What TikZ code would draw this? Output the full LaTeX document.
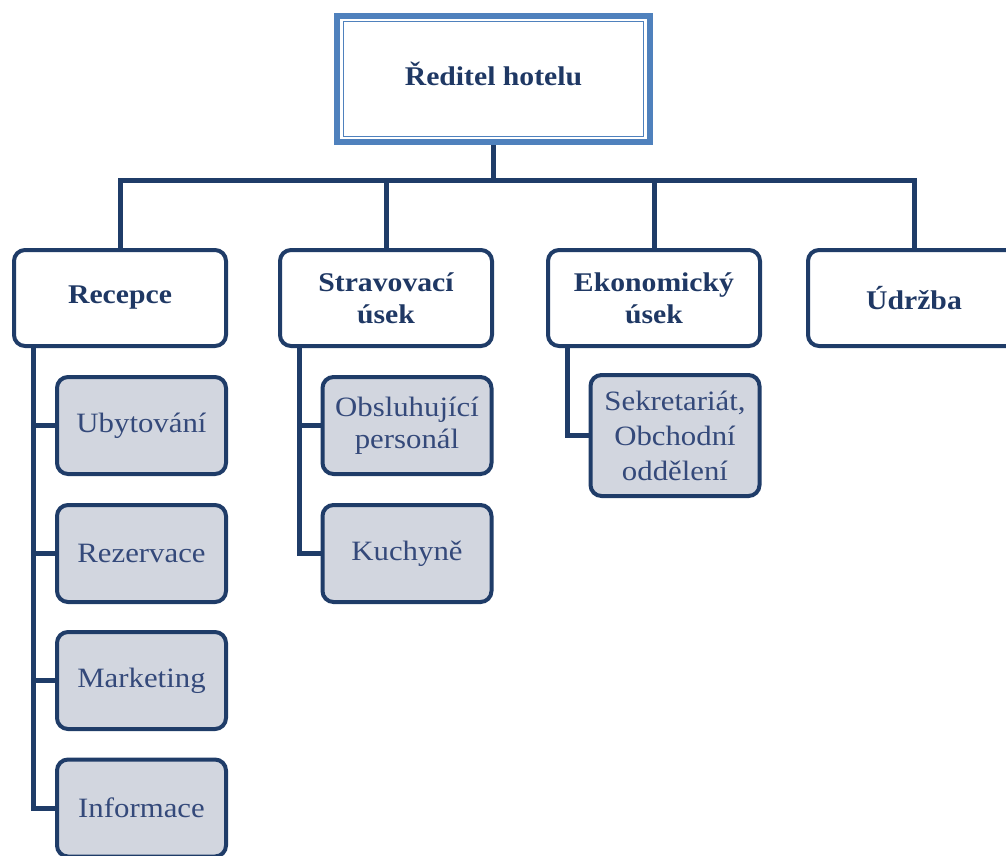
\documentclass[tikz,border=0pt]{standalone}
\usepackage{fontspec}
\setmainfont{Liberation Serif}[FakeStretch=1.1]
\definecolor{navy}{HTML}{1F3C68}
\definecolor{topblue}{HTML}{4F81BD}
\definecolor{txtdark}{HTML}{1F3864}
\definecolor{txtchild}{HTML}{34497A}
\definecolor{childfill}{HTML}{D2D6DF}
\tikzset{
  topbox/.style={draw=topblue, line width=6pt, fill=white, minimum width=313pt, minimum height=126pt, inner sep=0pt,
    font=\fontsize{27}{32}\selectfont\bfseries, text=txtdark},
  deptbox/.style={draw=navy, line width=4pt, fill=white, rounded corners=11pt, minimum width=212pt, minimum height=96pt,
    inner sep=0pt, align=center, font=\fontsize{27}{32}\selectfont\bfseries, text=txtdark},
  subbox/.style={draw=navy, line width=4pt, fill=childfill, rounded corners=11pt, minimum width=169pt, minimum height=97pt,
    inner sep=0pt, align=center, font=\fontsize{28}{32}\selectfont, text=txtchild},
  conn/.style={draw=navy, line width=5pt, line join=miter}
}
\begin{document}
\begin{tikzpicture}[x=1pt,y=-1pt]
\useasboundingbox (0,0) rectangle (1006,855);
\clip (0,0) rectangle (1006,855);
% top
\node[topbox] (top) at (493.5,79) {\raisebox{10pt}{Ředitel hotelu}};
\coordinate (tin1) at (343.5,21.5);
\coordinate (tin2) at (643.5,136.5);
\draw[topblue, line width=1.8pt] (tin1) rectangle (tin2);
\coordinate (bus) at (top.south |- 0,180);
% departments
\node[deptbox] (rec) at (120,298) {Recepce};
\node[deptbox] (strav) at (386,298) {Stravovací\\úsek};
\node[deptbox] (ekon) at (654,298) {Ekonomický\\úsek};
\node[deptbox] (udr) at (914,298) {Údržba};
% children
\node[subbox] (ubyt) at (141.5,425.5) {Ubytování};
\node[subbox] (rez) at (141.5,553.5) {Rezervace};
\node[subbox] (mark) at (141.5,680.5) {Marketing};
\node[subbox] (info) at (141.5,808) {Informace};
\node[subbox] (obsl) at (407,425.5) {Obsluhující\\personál};
\node[subbox] (kuch) at (407,553.5) {Kuchyně};
\node[subbox, minimum height=121pt, font=\fontsize{28}{35}\selectfont] (sekr) at (675,435.5) {Sekretariát,\\Obchodní\\oddělení};
% connectors
\path[conn] (top.south) -- (bus);
\path[conn] (bus) -| (rec.north);
\path[conn] (bus) -| (strav.north);
\path[conn] (bus) -| (ekon.north);
\path[conn] (bus) -| (udr.north);
\path[conn] ([xshift=21pt]rec.south west) |- (ubyt.west);
\path[conn] ([xshift=21pt]rec.south west) |- (rez.west);
\path[conn] ([xshift=21pt]rec.south west) |- (mark.west);
\path[conn] ([xshift=21pt]rec.south west) |- (info.west);
\path[conn] ([xshift=21pt]strav.south west) |- (obsl.west);
\path[conn] ([xshift=21pt]strav.south west) |- (kuch.west);
\path[conn] ([xshift=21pt]ekon.south west) |- (sekr.west);
\end{tikzpicture}
\end{document}
